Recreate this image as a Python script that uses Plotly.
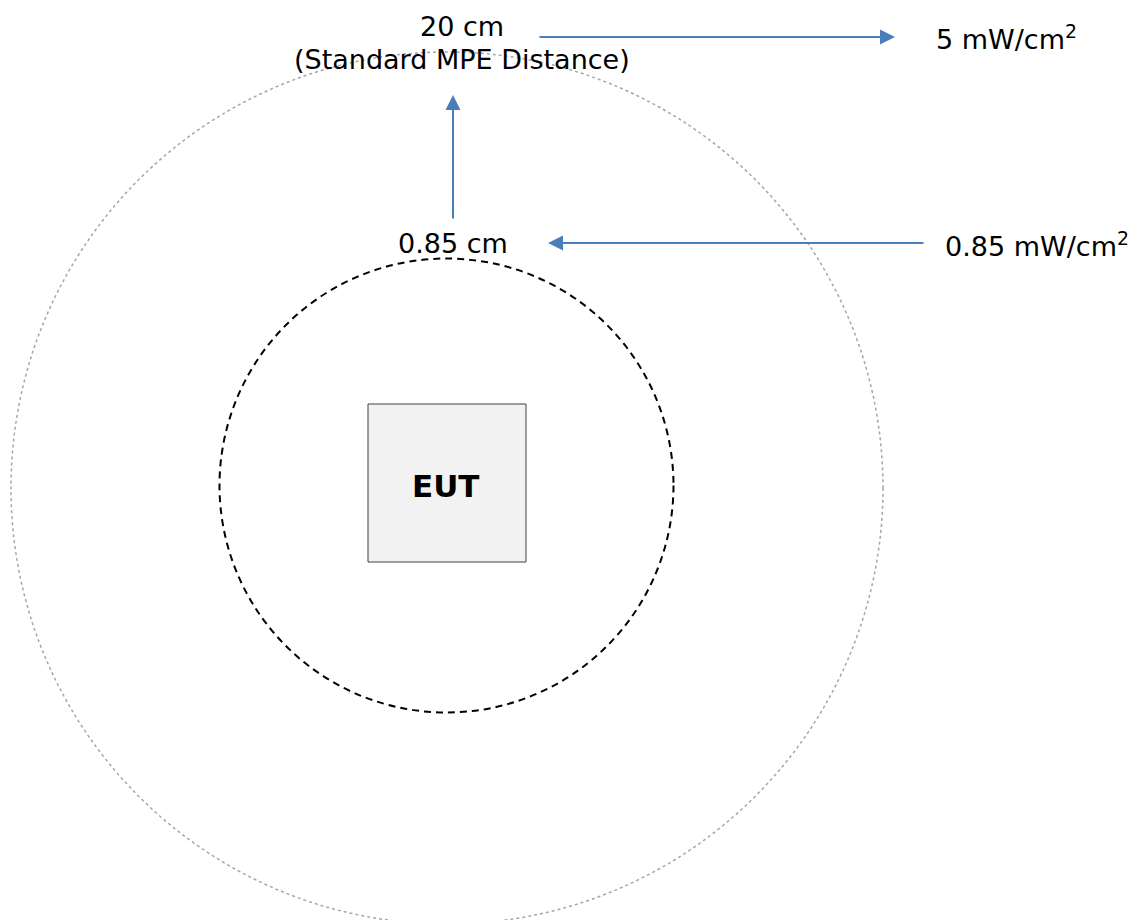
import plotly.graph_objects as go

# ---- content ----
distance_labels = ["20 cm", "(Standard MPE Distance)", "0.85 cm"]
density_labels = ["5 mW/cm<sup>2</sup>", "0.85 mW/cm<sup>2</sup>"]
device_label = "EUT"

# arrows: (start, tip)
arrow_x = [[453, 453], [538, 895], [925, 548]]
arrow_y = [[220, 95], [37, 37], [243, 243]]

W, H = 1147, 920
FONT = "DejaVu Sans, Verdana, sans-serif"
BLUE = "#4a7ebb"

# geometry (pixel coordinates, y downward)
cx, cy = 447, 488
r_outer = 436
icx, icy, r_inner = 446.5, 485.5, 227
box = (368, 404, 526, 562)

fig = go.Figure()
fig.add_trace(go.Scatter(x=[0], y=[0], mode="markers", marker=dict(opacity=0),
                         hoverinfo="skip", showlegend=False))

shapes = [
    dict(type="circle", xref="x", yref="y", x0=cx - r_outer, x1=cx + r_outer, y0=cy - r_outer, y1=cy + r_outer,
         line=dict(color="#a6a6a6", width=1.5, dash="dot"), layer="below"),
    dict(type="circle", xref="x", yref="y", x0=icx - r_inner, x1=icx + r_inner, y0=icy - r_inner, y1=icy + r_inner,
         line=dict(color="black", width=2, dash="7px,5px")),
    dict(type="rect", xref="x", yref="y", x0=box[0], y0=box[1], x1=box[2], y1=box[3],
         fillcolor="#f2f2f2", line=dict(color="#404040", width=1)),
]

annotations = []
def txt(x, y, t, size=27, xanchor="center", bold=False):
    annotations.append(dict(x=x, y=y, xref="x", yref="y", text=("<b>%s</b>" % t) if bold else t,
                            showarrow=False, xanchor=xanchor, yanchor="middle",
                            font=dict(family=FONT, size=size, color="black")))

for ax_, ay_ in zip(arrow_x, arrow_y):
    annotations.append(dict(x=ax_[1], y=ay_[1], ax=ax_[0], ay=ay_[0], xref="x", yref="y",
                            axref="x", ayref="y", text="", showarrow=True, arrowhead=2,
                            arrowsize=1.5, arrowwidth=2, arrowcolor=BLUE,
                            standoff=0, startstandoff=0))

txt(462, 26, distance_labels[0])
txt(462, 59, distance_labels[1])
txt(453, 243, distance_labels[2])
txt(934, 37, density_labels[0], xanchor="left")
txt(943, 244, density_labels[1], xanchor="left")
txt(446, 486, device_label, size=31, bold=True)

fig.update_layout(
    width=W, height=H, margin=dict(l=0, r=0, t=0, b=0),
    paper_bgcolor="white", plot_bgcolor="white",
    xaxis=dict(range=[0, W], visible=False, fixedrange=True),
    yaxis=dict(range=[H, 0], visible=False, fixedrange=True),
    shapes=shapes, annotations=annotations, showlegend=False,
)

fig.write_html("out.html", config={"displayModeBar": False},
               post_script="document.body.style.margin='0';document.body.style.overflow='hidden';")
